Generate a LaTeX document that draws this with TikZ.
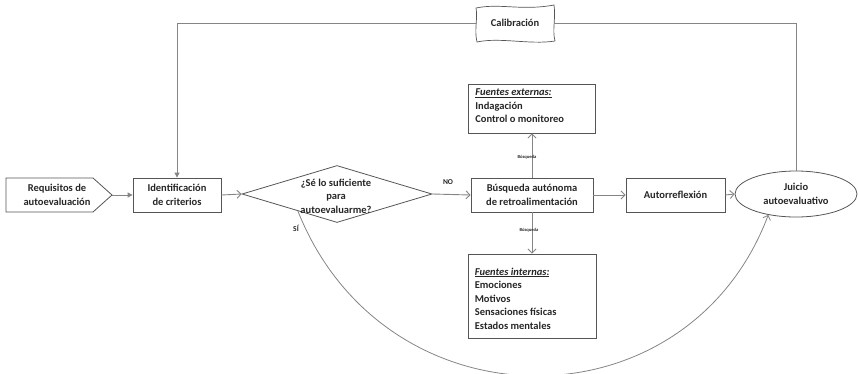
\documentclass[tikz,border=0pt]{standalone}
\usepackage{fontspec}
\setmainfont{Carlito}
\usetikzlibrary{arrows.meta,shapes.geometric,calc}
\definecolor{ln}{HTML}{858585}
\definecolor{bd}{HTML}{555555}
\definecolor{tx}{HTML}{262626}
\begin{document}
\begin{tikzpicture}[x=1pt,y=-1pt,
  mainfont/.style={font=\bfseries\fontsize{10.5}{13.5}\selectfont, text=tx},
  box/.style={draw=bd, line width=0.8pt, rectangle, inner sep=0pt, mainfont, align=center},
  conn/.style={draw=ln, line width=0.9pt},
  openarr/.style={-{Straight Barb[length=4pt,width=8pt]}},
  fillarr/.style={-{Triangle[length=5pt,width=5pt]}},
  small/.style={font=\bfseries\fontsize{4.6}{5}\selectfont, text=tx, inner sep=0pt},
  lbl/.style={font=\bfseries\fontsize{7.5}{9}\selectfont, text=tx, inner sep=0pt}
]
\useasboundingbox (0,0) rectangle (858,373);

% Requisitos (pentagon)
\draw[draw=bd, line width=0.8pt] (6,178) -- (93,178) -- (112,195) -- (93,212) -- (6,212) -- cycle;
\coordinate (reqtip) at (112,195);
\node[mainfont, align=center, inner sep=0pt] (req) at (57,195) {Requisitos de\\autoevaluación};

% Identificacion
\node[box, minimum width=88, minimum height=34] (ident) at (177,195) {Identificación\\de criterios};

% Diamond
\node[diamond, draw=bd, line width=0.8pt, aspect=3.33, minimum width=190, minimum height=57, inner sep=0pt] (dia) at (337,194) {};
\node[mainfont, align=center, inner sep=0pt] (diatext) at (336,196) {¿Sé lo suficiente\\para\\autoevaluarme?};

% Busqueda autonoma
\node[box, minimum width=122, minimum height=34] (bus) at (532,195) {Búsqueda autónoma\\de retroalimentación};

% Autorreflexion
\node[box, minimum width=99, minimum height=34] (aut) at (675.5,195) {Autorreflexión};

% Juicio
\node[ellipse, draw=bd, line width=0.8pt, minimum width=122, minimum height=46, inner sep=0pt, mainfont, align=center] (jui) at (796,194) {Juicio\\autoevaluativo};

% Fuentes externas
\node[box, minimum width=127, minimum height=49] (ext) at (532,108.5) {};
\node[mainfont, align=left, anchor=north west, inner sep=0pt] (exttext) at ([shift={(7,5)}]ext.north west)
  {\underline{\textit{Fuentes externas:}}\\Indagación\\Control o monitoreo};

% Fuentes internas
\node[box, minimum width=128, minimum height=84] (int) at (532,296) {};
\node[mainfont, align=left, anchor=north west, inner sep=0pt] (inttext) at ([shift={(7,14)}]int.north west)
  {\underline{\textit{Fuentes internas:}}\\Emociones\\Motivos\\Sensaciones físicas\\Estados mentales};

% Calibracion (wavy box)
\node[mainfont, minimum width=78, minimum height=34, inner sep=0pt] (cal) at (515,23) {Calibración};
\draw[draw=bd, line width=0.7pt]
  (476,8) .. controls (500,3) and (522,11) .. (554,5)
  .. controls (556,18) and (552,30) .. (555,41)
  .. controls (530,45) and (500,37) .. (477,42)
  .. controls (474,30) and (478,18) .. (476,8) -- cycle;

% Connectors
\draw[conn, fillarr] (reqtip) -- (ident.west);
\draw[conn, openarr] (ident.east) -- (dia.west);
\draw[conn, openarr] (dia.east) -- (bus.west);
\draw[conn, openarr] (bus.east) -- (aut.west);
\draw[conn, openarr] (aut.east) -- (jui.west);
\draw[conn, openarr] (bus.north) -- (ext.south);
\draw[conn, openarr] (bus.south) -- (int.north);
\draw[conn] (jui.north) |- (cal.east);
\draw[conn, fillarr] (cal.west) -| (ident.north);
\coordinate (sistart) at ($(dia.west)!0.59!(dia.south)$);
\draw[conn, line width=0.8pt, openarr] (sistart) .. controls (385,430) and (687,430) .. (jui.217);

% Labels
\node[lbl] (nolbl) at (448,182) {NO};
\node[lbl] (silbl) at (296,228) {SÍ};
\node[small] (bus1) at (527,157) {Búsqueda};
\node[small] (bus2) at (529,230) {Búsqueda};
\end{tikzpicture}
\end{document}
